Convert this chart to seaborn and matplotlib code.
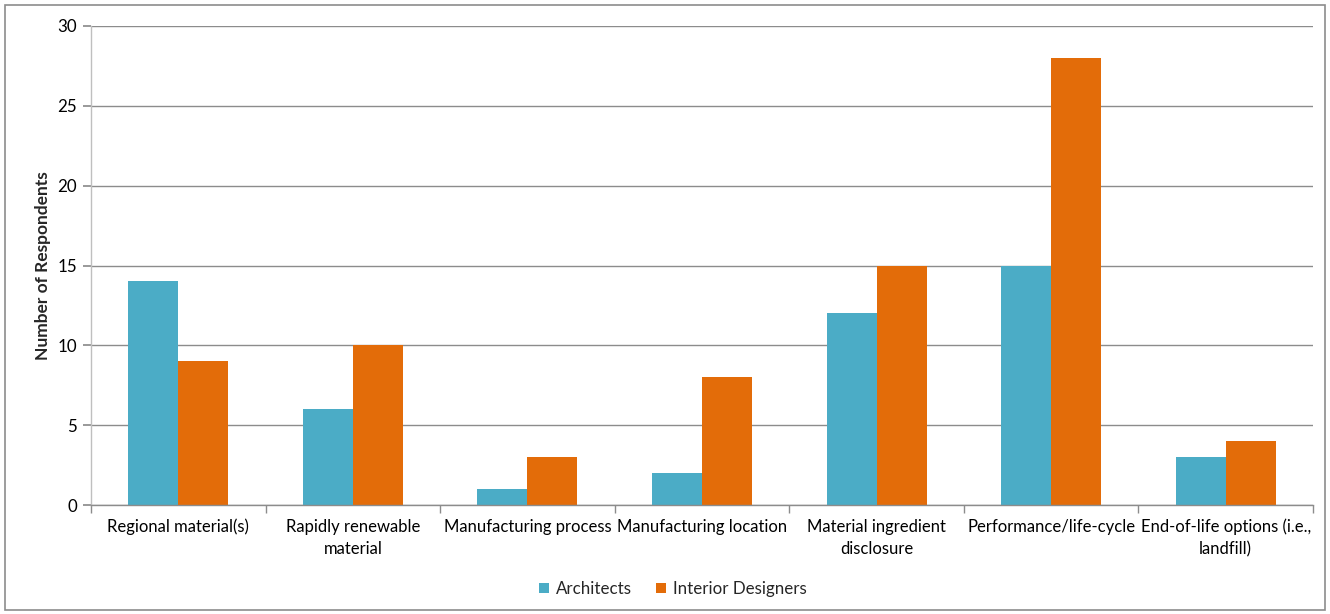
import matplotlib
matplotlib.use("Agg")
import matplotlib.pyplot as plt
import seaborn as sns
import pandas as pd
import numpy as np
from matplotlib.patches import Rectangle
from matplotlib.ticker import FixedLocator

categories = ["Regional material(s)", "Rapidly renewable\nmaterial", "Manufacturing process",
              "Manufacturing location", "Material ingredient\ndisclosure", "Performance/life-cycle",
              "End-of-life options (i.e.,\nlandfill)"]
architects = [14, 6, 1, 2, 12, 15, 3]
interior = [9, 10, 3, 8, 15, 28, 4]
series = ["Architects", "Interior Designers"]
colors = ["#4BACC6", "#E36C09"]

df = pd.DataFrame({
    "category": categories * 2,
    "value": architects + interior,
    "group": [series[0]] * len(categories) + [series[1]] * len(categories),
})

sns.set_theme(style="white")
plt.rcParams["font.family"] = ["Lato", "DejaVu Sans"]

fig = plt.figure(figsize=(13.3, 6.14), dpi=100)
ax = fig.add_axes([91/1330, 1-505/614, (1313-91)/1330, (505-26)/614])

sns.barplot(data=df, x="category", y="value", hue="group", palette=colors,
            width=0.573, saturation=1, ax=ax, order=categories, hue_order=series,
            linewidth=0, edgecolor="none")

ax.set_xlim(-0.5, len(categories) - 0.5)
ax.set_ylim(0, 30)
ax.set_yticks([0, 5, 10, 15, 20, 25, 30])
ax.yaxis.grid(True, color="#8C8C8C", linewidth=1)
ax.set_axisbelow(True)
for s in ["top", "right"]:
    ax.spines[s].set_visible(False)
ax.spines["left"].set_color("#BFBFBF")
ax.spines["bottom"].set_color("#8C8C8C")
ax.spines["left"].set_linewidth(1)
ax.spines["bottom"].set_linewidth(1)

ax.tick_params(axis="y", which="major", left=True, length=6, color="#8C8C8C",
               labelsize=12.2, labelcolor="#000000", pad=4)
ax.tick_params(axis="x", which="major", bottom=False, length=0, labelsize=12,
               labelcolor="#000000", pad=10)
for lbl in ax.get_xticklabels():
    lbl.set_linespacing(1.45)
ax.xaxis.set_minor_locator(FixedLocator(np.arange(-0.5, len(categories), 1.0)))
ax.tick_params(axis="x", which="minor", bottom=True, length=6, color="#8C8C8C")

ax.set_xlabel("")
ax.set_ylabel("Number of Respondents", fontsize=12.5, fontweight="bold", labelpad=5)

leg = ax.legend(loc="center", bbox_to_anchor=(673/1330, 1-589/614),
                bbox_transform=fig.transFigure, ncol=2, frameon=False,
                fontsize=12.2, handlelength=0.6, handleheight=0.6, handletextpad=0.4,
                columnspacing=1.4)

fig.patches.append(Rectangle((5/1330, 4/614), 1320/1330, 605/614, transform=fig.transFigure,
                             fill=False, edgecolor="#8C8C8C", linewidth=1.2))

fig.savefig("out.png", dpi=100)
